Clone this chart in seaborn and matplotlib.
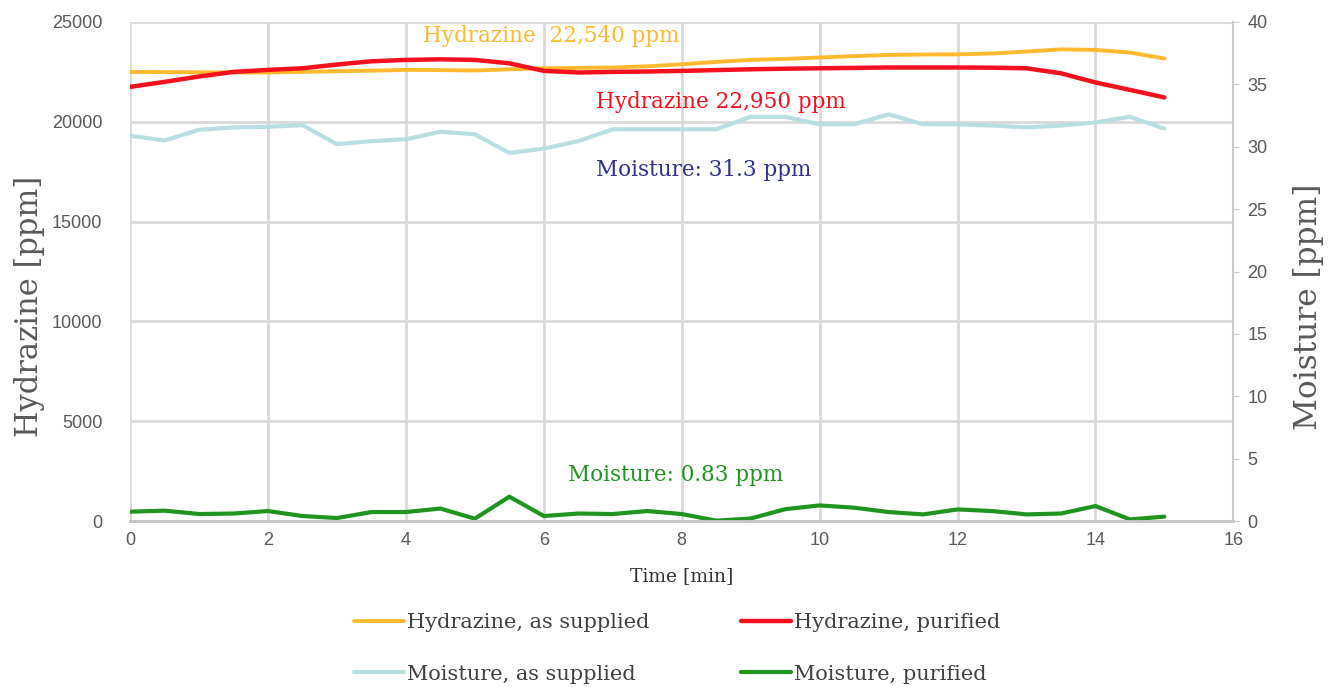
import numpy as np
import pandas as pd
import seaborn as sns
import matplotlib.pyplot as plt

time_min = [0, 0.5, 1, 1.5, 2, 2.5, 3, 3.5, 4, 4.5, 5, 5.5, 6, 6.5, 7, 7.5,
            8, 8.5, 9, 9.5, 10, 10.5, 11, 11.5, 12, 12.5, 13, 13.5, 14, 14.5, 15]

hydrazine_supplied = [22500, 22490, 22480, 22470, 22470, 22500, 22530, 22560, 22600, 22590,
                      22570, 22630, 22680, 22700, 22720, 22780, 22880, 23000, 23100, 23150,
                      23220, 23290, 23350, 23370, 23380, 23420, 23520, 23630, 23600, 23470, 23170]
hydrazine_purified = [21750, 22000, 22270, 22500, 22600, 22680, 22870, 23030, 23100, 23130,
                      23100, 22930, 22550, 22470, 22500, 22520, 22550, 22590, 22630, 22660,
                      22680, 22700, 22720, 22720, 22720, 22710, 22680, 22430, 21970, 21600, 21220]
moisture_supplied = [30.88, 30.5, 31.36, 31.55, 31.6, 31.73, 30.2, 30.45, 30.6, 31.2,
                     31.0, 29.5, 29.85, 30.45, 31.4, 31.4, 31.4, 31.4, 32.4, 32.4,
                     31.8, 31.8, 32.6, 31.8, 31.8, 31.7, 31.55, 31.7, 31.95, 32.4, 31.45]
moisture_purified = [0.75, 0.83, 0.56, 0.6, 0.8, 0.4, 0.24, 0.72, 0.72, 1.0,
                     0.19, 1.95, 0.4, 0.6, 0.56, 0.8, 0.56, 0.03, 0.2, 0.95,
                     1.25, 1.07, 0.72, 0.53, 0.93, 0.8, 0.53, 0.6, 1.2, 0.13, 0.35]

labels = ['Hydrazine, as supplied', 'Hydrazine, purified',
          'Moisture, as supplied', 'Moisture, purified']
colors = ['#FFB92E', '#F5101E', '#B9DEE2', '#1F951F']

df = pd.DataFrame({'time': time_min,
                   'hs': hydrazine_supplied, 'hp': hydrazine_purified,
                   'ms': moisture_supplied, 'mp': moisture_purified})

sns.set_style('white')
serif = ['DejaVu Serif']
sans = ['Liberation Sans', 'DejaVu Sans']
tick_color = '#595959'

fig = plt.figure(figsize=(13.28, 6.87), dpi=100)
ax = fig.add_axes([0.098, 0.2416, 0.8307, 0.7264])
ax2 = ax.twinx()

sns.lineplot(data=df, x='time', y='hs', ax=ax, color=colors[0], lw=2.8, label=labels[0], legend=False)
sns.lineplot(data=df, x='time', y='hp', ax=ax, color=colors[1], lw=3.2, label=labels[1], legend=False)
sns.lineplot(data=df, x='time', y='ms', ax=ax2, color=colors[2], lw=3, label=labels[2], legend=False)
sns.lineplot(data=df, x='time', y='mp', ax=ax2, color=colors[3], lw=3, label=labels[3], legend=False)

ax.set_xlim(0, 16)
ax.set_ylim(0, 25000)
ax2.set_ylim(0, 40)
ax.set_xticks(range(0, 17, 2))
ax.set_yticks(range(0, 25001, 5000))
ax2.set_yticks(range(0, 41, 5))

ax.grid(True, color='#D9D9D9', lw=2)
ax2.grid(False)
ax.set_zorder(ax2.get_zorder() - 1)
ax2.patch.set_visible(False)
ax.set_axisbelow(True)

for a in (ax, ax2):
    for s in ('top', 'left'):
        a.spines[s].set_visible(False)
    a.spines['bottom'].set_color('#C8C8C8')
    a.spines['bottom'].set_linewidth(2)
ax.spines['right'].set_visible(False)
ax2.spines['right'].set_color('#C8C8C8')
ax2.spines['right'].set_linewidth(1.5)

ax.tick_params(axis='y', length=0, labelsize=13, labelcolor=tick_color, pad=20)
ax.tick_params(axis='x', length=0, labelsize=13, labelcolor=tick_color, pad=8)
ax2.tick_params(axis='y', length=4, color='#C8C8C8', labelsize=13, labelcolor=tick_color, pad=6)
for t in ax.get_xticklabels() + ax.get_yticklabels() + ax2.get_yticklabels():
    t.set_family(sans)

ax.set_xlabel('Time [min]', family=serif, fontsize=13.5, color='#333333', labelpad=13)
ax.set_ylabel('Hydrazine [ppm]', family=serif, fontsize=22, color=tick_color)
ax2.set_ylabel('Moisture [ppm]', family=serif, fontsize=22.5, color=tick_color)
ax.yaxis.set_label_coords(-0.077, 0.43)
ax2.yaxis.set_label_coords(1.054, 0.43)

ax.text(4.25, 24300, 'Hydrazine  22,540 ppm', family=serif, fontsize=15.5, color=colors[0], va='center')
ax.text(6.75, 21000, 'Hydrazine 22,950 ppm', family=serif, fontsize=15.5, color=colors[1], va='center')
ax2.text(6.75, 28.1, 'Moisture: 31.3 ppm', family=serif, fontsize=15.5, color='#2E3192', va='center')
ax2.text(6.35, 3.7, 'Moisture: 0.83 ppm', family=serif, fontsize=15.5, color=colors[3], va='center')

lines = ax.get_lines()[:2] + ax2.get_lines()[:2]
# legend fills column by column
order = [0, 2, 1, 3]
fig.legend([lines[i] for i in order], [labels[i] for i in order], loc='center',
           bbox_to_anchor=(0.51, 0.056), ncol=2, frameon=False,
           prop={'family': serif, 'size': 15}, labelcolor='#404040',
           handlelength=2.4, handletextpad=0.15, columnspacing=4.4, labelspacing=1.55)

fig.savefig('out.png', dpi=100)
